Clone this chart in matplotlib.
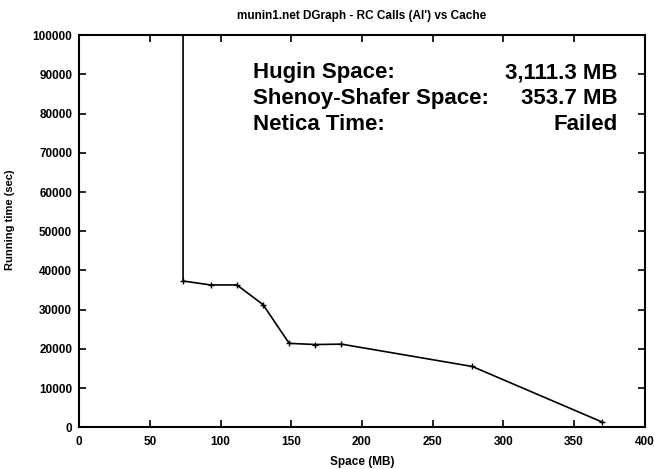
import matplotlib
matplotlib.use("Agg")
import matplotlib.pyplot as plt

# Running time vs cache space (munin1.net, RC calls)
space_mb = [73.5, 73.5, 93, 111.5, 130, 148.5, 167, 185.5, 278, 370]
run_time = [130000, 37300, 36300, 36300, 31300, 21400, 21100, 21200, 15500, 1300]

x_ticks = [0, 50, 100, 150, 200, 250, 300, 350, 400]
y_ticks = [0, 10000, 20000, 30000, 40000, 50000, 60000, 70000, 80000, 90000, 100000]

info_labels = ["Hugin Space:", "Shenoy-Shafer Space:", "Netica Time:"]
info_values = ["3,111.3 MB", "353.7 MB", "Failed"]

plt.rcParams['font.family'] = ['Liberation Sans', 'DejaVu Sans']

fig = plt.figure(figsize=(6.54, 4.69), dpi=100)
ax = fig.add_axes([0.121, 0.089, 0.865, 0.836])

ax.plot(space_mb, run_time, color='black', linewidth=1.2,
        marker='+', markersize=4, markeredgewidth=1.0)

ax.set_xlim(0, 400)
ax.set_ylim(0, 100000)
ax.set_xticks(x_ticks)
ax.set_yticks(y_ticks)
ax.set_xticklabels([str(v) for v in x_ticks], fontsize=8.5, fontweight='bold')
ax.set_yticklabels([str(v) for v in y_ticks], fontsize=8.5, fontweight='bold')
ax.tick_params(direction='in', length=5, width=1.2, top=True, right=True)
ax.tick_params(axis='x', pad=6)
ax.tick_params(axis='y', pad=5)
for s in ax.spines.values():
    s.set_linewidth(1.5)

ax.set_title('munin1.net DGraph - RC Calls (AI\') vs Cache', fontsize=8.5,
             fontweight='bold', pad=12)
ax.set_xlabel('Space (MB)', fontsize=8.5, fontweight='bold', labelpad=6)
ax.set_ylabel('Running time (sec)', fontsize=8, fontweight='bold')
ax.yaxis.set_label_coords(-0.113, 0.53)

for i, (lab, val) in enumerate(zip(info_labels, info_values)):
    y = 0.890 - i * 0.066
    ax.text(0.307, y, lab, transform=ax.transAxes, fontsize=16,
            fontweight='bold', ha='left', va='baseline')
    ax.text(0.952, y, val, transform=ax.transAxes, fontsize=16,
            fontweight='bold', ha='right', va='baseline')

plt.savefig('out.png', dpi=100)
plt.close()
